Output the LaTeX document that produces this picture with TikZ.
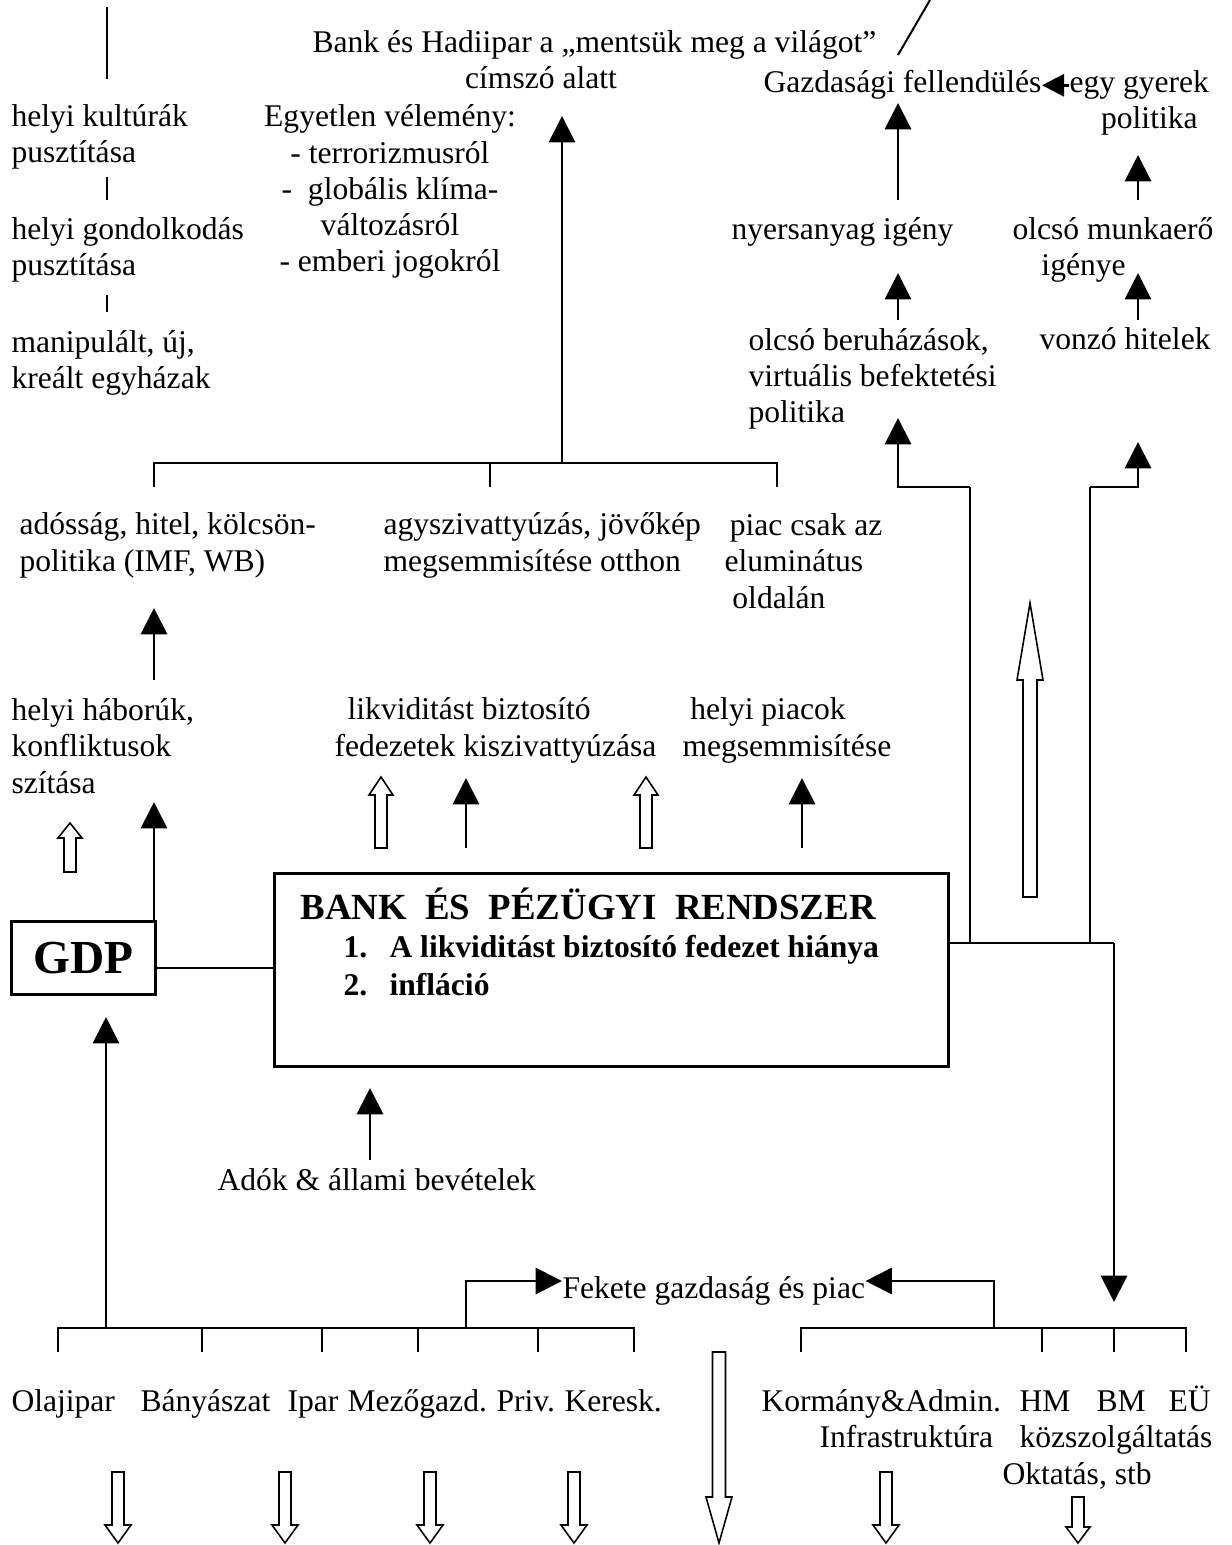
\documentclass[tikz,border=0pt]{standalone}
\usepackage{fontspec}
\setmainfont{Liberation Serif}
\usetikzlibrary{arrows,arrows.meta,positioning}

% hollow block arrow: x, tail y, head base y, tip y, shaft half width, head half width
\newcommand{\holarrow}[6]{%
  \draw[hollowarrow] (#1-#5,#2) -- (#1-#5,#3) -- (#1-#6,#3) -- (#1,#4) -- (#1+#6,#3) -- (#1+#5,#3) -- (#1+#5,#2) -- cycle;}

\begin{document}
\begin{tikzpicture}[x=0.38pt,y=-0.38pt,font=\fontsize{12}{13.8}\selectfont,
  lbl/.style={inner sep=0pt,anchor=base west,align=left},
  bold/.style={lbl,font=\fontsize{12}{13.8}\selectfont\bfseries},
  pointer/.style={line width=1.1pt,-{Triangle[width=9.9pt,length=10pt]}},
  tree/.style={line width=0.75pt},
  box/.style={draw,line width=1.1pt,inner sep=0pt},
  hollowarrow/.style={line width=0.6pt,line join=miter}]

    \useasboundingbox (0,0) rectangle (1231,1545);

    % Upper texts (multi-line nodes sit on their last baseline)
    \node [lbl] at (11,163) (kult) {helyi kultúrák\\pusztítása};
    \node [lbl] at (11,276) (gond) {helyi gondolkodás\\pusztítása};
    \node [lbl] at (11,389) (egyh) {manipulált, új,\\kreált egyházak};
    \node [lbl] at (312,89) (hadi) {Bank és Hadiipar a „mentsük meg a világot”\\\hspace*{58pt}címszó alatt};
    \node [lbl,anchor=base,align=center] at (390,272) (velemeny) {Egyetlen vélemény:\\- terrorizmusról\\-\ \ globális klíma-\\változásról\\- emberi jogokról};
    \node [lbl] at (763,93) (gazd) {Gazdasági fellendülés};
    \node [lbl] at (1069,129) (gyerek) {egy gyerek\\\hspace*{12pt}politika};
    \node [lbl] at (731,240) (nyers) {nyersanyag igény};
    \node [lbl] at (1012,276) (munka) {olcsó munkaerő\\\hspace*{11pt}igénye};
    \node [lbl] at (748,423) (beruh) {olcsó beruházások,\\virtuális befektetési\\politika};
    \node [lbl] at (1039,350) (vonzo) {vonzó hitelek};

    % Middle texts
    \node [lbl] at (19,571) (adossag) {adósság, hitel, kölcsön-\\politika (IMF, WB)};
    \node [lbl] at (383,571) (agy) {agyszivattyúzás, jövőkép\\megsemmisítése otthon};
    \node [lbl] at (724,608) (piac) {\hspace*{2pt}piac csak az\\eluminátus\\\hspace*{3pt}oldalán};
    \node [lbl] at (11,793) (haboru) {helyi háborúk,\\konfliktusok\\szítása};
    \node [lbl] at (334,756) (likvid) {\hspace*{5pt}likviditást biztosító\\fedezetek kiszivattyúzása};
    \node [lbl] at (682,756) (piacok) {\hspace*{3pt}helyi piacok\\megsemmisítése};

    % The boxes
    \node [box,font=\fontsize{18}{20}\selectfont\bfseries,minimum width=54.7pt,minimum height=27.7pt,anchor=north west] at (10,920) (gdp) {GDP};
    \node [box,minimum width=256.1pt,minimum height=73.3pt,anchor=north west] at (273,872) (rendszer) {};
    \node [lbl,font=\fontsize{14}{16}\selectfont\bfseries] at (300,919) (cim) {BANK\ \ ÉS\ \ PÉZÜGYI\ \ RENDSZER};
    \node [bold] at (343,957) (n1) {1.};
    \node [bold] at (389,957) (p1) {A likviditást biztosító fedezet hiánya};
    \node [bold] at (343,995) (n2) {2.};
    \node [bold] at (389,995) (p2) {infláció};
    \node [lbl] at (217,1190) (ado) {Adók \& állami bevételek};

    % Lower texts
    \node [lbl] at (562,1298) (fekete) {Fekete gazdaság és piac};
    \node [lbl] at (11,1411) (olaj) {Olajipar};
    \node [lbl] at (140,1411) (banya) {Bányászat};
    \node [lbl] at (287,1411) (ipar) {Ipar};
    \node [lbl] at (347,1411) (mezo) {Mezőgazd.};
    \node [lbl] at (496,1411) (priv) {Priv.};
    \node [lbl] at (564,1411) (keresk) {Keresk.};
    \node [lbl] at (761,1411) (kormany) {Kormány\&Admin.};
    \node [lbl] at (1019,1411) (hm) {HM};
    \node [lbl] at (1096,1411) (bm) {BM};
    \node [lbl] at (1168,1411) (eu) {EÜ};
    \node [lbl] at (819,1447) (infra) {Infrastruktúra};
    \node [lbl] at (1019,1447) (kozszolg) {közszolgáltatás};
    \node [lbl] at (1002,1484) (oktatas) {Oktatás, stb};

    % Free ends of the connectors
    \coordinate (top) at (562,463);
    \coordinate (jobb) at (1114,943);
    \coordinate (fekbal) at (466,1328);
    \coordinate (fekjobb) at (994,1328);

    % Left column lines
    \draw[tree] (107,7) -- (107,79);
    \draw[tree] (107,177) -- (107,200);
    \draw[tree] (107,295) -- (107,312);
    \draw[tree] (930,0) -- (898,55);

    % Upper tree
    \draw[tree] (154,487) -- (154,463) -- (777,463) -- (777,487);
    \draw[tree] (490,463) -- (490,487);
    \draw[pointer] (top) -- (562,116);

    % Right column arrows
    \draw[line width=1.1pt,-{Triangle[width=8.4pt,length=8.4pt]}] (gyerek.west |- gazd.east) -- (gazd.east);
    \draw[pointer] (898,200) -- (898,103);
    \draw[pointer] (1138,200) -- (1138,155);
    \draw[pointer] (898,320) -- (898,273);
    \draw[pointer] (1138,320) -- (1138,273);

    % From the bank box
    \draw[tree] (rendszer.east |- jobb) -- (jobb);
    \draw[tree] (970,943) -- (970,487);
    \draw[pointer] (970,487) -- (898,487) -- (898,418);
    \draw[tree] (1090,943) -- (1090,487);
    \draw[pointer] (1090,487) -- (1138,487) -- (1138,442);
    \draw[pointer] (jobb) -- (1114,1302);
    \holarrow{1030}{897}{680}{603}{7}{13}

    % GDP and the middle arrows
    \draw[tree] (gdp.east |- 0,968) -- (rendszer.west |- 0,968);
    \draw[pointer] (gdp.north east -| 154,0) -- (154,802);
    \holarrow{70}{872}{838}{823}{6}{12}
    \draw[pointer] (154,680) -- (154,608);
    \holarrow{381}{848}{795}{777}{6}{12}
    \draw[pointer] (466,848) -- (466,778);
    \holarrow{646}{848}{795}{777}{6}{12}
    \draw[pointer] (802,848) -- (802,778);
    \draw[pointer] (370,1160) -- (370,1088);
    \draw[pointer] (106,1328) -- (106,1017);

    % Lower trees
    \draw[tree] (58,1352) -- (58,1328) -- (634,1328) -- (634,1352);
    \foreach \x in {202,322,418,538} {\draw[tree] (\x,1328) -- (\x,1352);}
    \draw[pointer] (fekbal) -- (466,1281) -- (fekete.west |- 0,1281);
    \draw[tree] (801,1352) -- (801,1328) -- (1186,1328) -- (1186,1352);
    \foreach \x in {1042,1114} {\draw[tree] (\x,1328) -- (\x,1352);}
    \draw[pointer] (fekjobb) -- (994,1281) -- (fekete.east |- 0,1281);

    % Bottom hollow arrows
    \foreach \x in {118,285,430,574,886} {\holarrow{\x}{1472}{1525}{1543}{6}{13}}
    \holarrow{719}{1352}{1497}{1543}{6.5}{13}
    \holarrow{1078}{1497}{1527}{1543}{6}{12}

\end{tikzpicture}
\end{document}
